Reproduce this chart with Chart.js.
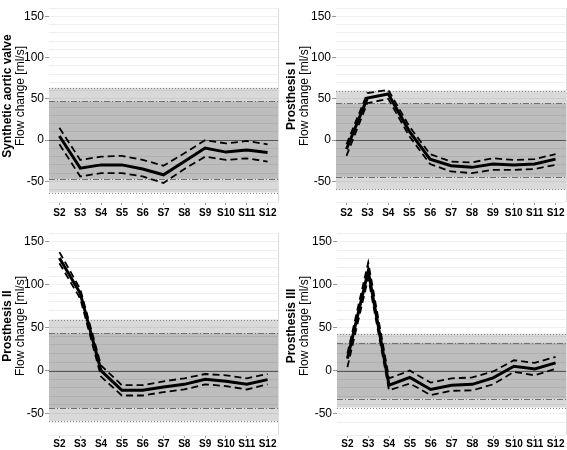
<!DOCTYPE html>
<html>
<head>
<meta charset="utf-8">
<script src="https://cdn.jsdelivr.net/npm/chart.js@4.4.0/dist/chart.umd.min.js"></script>
<style>
    body { margin: 0; background: #fff; }
    #wrap { position: relative; width: 567px; height: 450px; }
    #wrap canvas { position: absolute; }
</style>
</head>
<body>
<div id="wrap">
    <canvas id="c0" style="left:0px;top:0px" width="284" height="225"></canvas>
    <canvas id="c1" style="left:284px;top:0px" width="283" height="225"></canvas>
    <canvas id="c2" style="left:0px;top:225px" width="284" height="225"></canvas>
    <canvas id="c3" style="left:284px;top:225px" width="283" height="225"></canvas>
</div>
<script>
// data
const stages = ['S2', 'S3', 'S4', 'S5', 'S6', 'S7', 'S8', 'S9', 'S10', 'S11', 'S12'];
const panelTitles = ['Synthetic aortic valve', 'Prosthesis I', 'Prosthesis II', 'Prosthesis III'];
const yAxisLabel = 'Flow change [ml/s]';
const yTickLabels = [-50, 0, 50, 100, 150];

const synMean  = [5, -34, -30, -30, -35, -42, -26, -9.5, -14.5, -12, -15];
const synUpper = [15, -24, -20, -19, -24, -31, -16, 0, -4, -1, -5];
const synLower = [-5, -44, -40, -40, -44, -52, -35, -20, -24, -22, -26];

const p1Mean  = [-11, 51, 56, 11, -23, -31, -33, -29, -30, -29, -23];
const p1Upper = [-5, 57, 61, 17, -17, -26, -27, -22, -24, -23, -17];
const p1Lower = [-19, 45, 50, 5, -29, -38, -40, -36, -36, -35, -30];

const p2Mean  = [131, 90, 0, -23, -23, -19, -16, -10, -12.5, -16, -10.5];
const p2Upper = [138, 95, 6, -17, -17, -12.5, -9, -4, -5.5, -9, -4];
const p2Lower = [125, 84, -7, -29, -29, -25, -22, -16, -18, -22, -16];

const p3Mean  = [14, 116, -17, -8, -22, -17, -16, -8.5, 5, 2, 9];
const p3Upper = [20, 126, -9, 0, -14, -9, -8, -1, 12, 9, 16];
const p3Lower = [4, 108, -23, -15, -28.5, -23.5, -23, -16, -1.5, -5.5, 2];

// limits of agreement bands (inner = dash-dot, outer = dotted)
const innerLimits = [47, 44.5, 43.5, 32.5];
const outerLimits = [63.5, 59.5, 59, 43];

const meanSeries  = [synMean, p1Mean, p2Mean, p3Mean];
const upperSeries = [synUpper, p1Upper, p2Upper, p3Upper];
const lowerSeries = [synLower, p1Lower, p2Lower, p3Lower];

const FONT = '"Liberation Sans", Arial, sans-serif';

// panel geometry
const yWidths   = [49, 52, 49, 53];
const padTop    = [0, 0, 8, 8];
const padRight  = [6, 1, 6, 1];
const xHeights  = [23, 23, 15, 15];
const xPads     = [2, 2, 0, 0];
const titleMid  = [96, 96, 101, 101];

// grey bands, limit lines and zero line behind the curves
const bandPlugin = {
    id: 'bands',
    beforeDatasetsDraw(chart, args, opts) {
        let ctx = chart.ctx;
        let area = chart.chartArea;
        let y = chart.scales.y;
        let yOut1 = y.getPixelForValue(opts.outer);
        let yOut2 = y.getPixelForValue(-opts.outer);
        let yIn1 = y.getPixelForValue(opts.inner);
        let yIn2 = y.getPixelForValue(-opts.inner);
        let y0 = y.getPixelForValue(0);
        ctx.save();
        ctx.fillStyle = 'rgba(0,0,0,0.15)';
        ctx.fillRect(area.left, yOut1, area.right - area.left, yOut2 - yOut1);
        ctx.fillStyle = 'rgba(0,0,0,0.13)';
        ctx.fillRect(area.left, yIn1, area.right - area.left, yIn2 - yIn1);

        function hline(py, color, dash) {
            ctx.beginPath();
            ctx.strokeStyle = color;
            ctx.lineWidth = 1;
            ctx.setLineDash(dash);
            ctx.moveTo(area.left, Math.round(py) + 0.5);
            ctx.lineTo(area.right, Math.round(py) + 0.5);
            ctx.stroke();
        }
        hline(yOut1, '#8a8a8a', [1, 2]);
        hline(yOut2, '#8a8a8a', [1, 2]);
        hline(yIn1, '#707070', [6, 2, 1, 2]);
        hline(yIn2, '#707070', [6, 2, 1, 2]);
        hline(y0, '#555555', []);

        // faint frame on the right edge
        ctx.setLineDash([]);
        ctx.strokeStyle = '#dddddd';
        ctx.beginPath();
        ctx.moveTo(Math.round(area.right) + 0.5, area.top);
        ctx.lineTo(Math.round(area.right) + 0.5, area.bottom);
        ctx.stroke();
        ctx.restore();
    }
};

// two-line rotated y title: bold panel name + regular unit line
const yTitlePlugin = {
    id: 'ytitle',
    afterDraw(chart, args, opts) {
        let ctx = chart.ctx;
        ctx.save();
        ctx.fillStyle = '#000';
        ctx.textAlign = 'center';
        ctx.textBaseline = 'middle';
        ctx.translate(8, opts.mid);
        ctx.rotate(-Math.PI / 2);
        ctx.font = 'bold 12px ' + FONT;
        ctx.fillText(opts.bold, 0, 0);
        ctx.font = '12px ' + FONT;
        ctx.fillText(opts.normal, 0, 12.5);
        ctx.restore();
    }
};

function makePanel(i) {
    let ctx = document.getElementById('c' + i).getContext('2d');
    return new Chart(ctx, {
        type: 'line',
        data: {
            labels: stages,
            datasets: [
                {
                    data: upperSeries[i],
                    borderColor: '#000',
                    borderWidth: 1.8,
                    borderDash: [7, 4],
                    pointRadius: 0,
                    tension: 0
                },
                {
                    data: lowerSeries[i],
                    borderColor: '#000',
                    borderWidth: 1.8,
                    borderDash: [7, 4],
                    pointRadius: 0,
                    tension: 0
                },
                {
                    data: meanSeries[i],
                    borderColor: '#000',
                    borderWidth: 3,
                    pointRadius: 0,
                    tension: 0
                }
            ]
        },
        options: {
            responsive: false,
            animation: false,
            devicePixelRatio: 1,
            layout: {
                padding: { top: padTop[i], right: padRight[i], left: 0, bottom: 0 }
            },
            scales: {
                x: {
                    type: 'category',
                    offset: true,
                    border: { display: false },
                    grid: {
                        display: true,
                        drawOnChartArea: false,
                        drawTicks: true,
                        tickLength: 3,
                        color: '#999'
                    },
                    ticks: {
                        color: '#000',
                        autoSkip: false,
                        maxRotation: 0,
                        padding: xPads[i],
                        font: { family: FONT, size: 10, weight: 'bold' }
                    },
                    afterFit: function (s) { s.height = xHeights[i]; }
                },
                y: {
                    min: -75,
                    max: 160,
                    border: { display: false },
                    grid: {
                        color: '#efefef',
                        tickLength: 4,
                        tickColor: function (c) {
                            return yTickLabels.includes(c.tick.value) ? '#999' : 'rgba(0,0,0,0)';
                        }
                    },
                    ticks: {
                        stepSize: 10,
                        autoSkip: false,
                        color: '#000',
                        padding: 1,
                        font: { family: FONT, size: 12 },
                        callback: function (v) {
                            return yTickLabels.includes(v) ? String(v) : '';
                        }
                    },
                    afterFit: function (s) { s.width = yWidths[i]; }
                }
            },
            plugins: {
                legend: { display: false },
                tooltip: { enabled: false },
                bands: { inner: innerLimits[i], outer: outerLimits[i] },
                ytitle: { bold: panelTitles[i], normal: yAxisLabel, mid: titleMid[i] }
            }
        },
        plugins: [bandPlugin, yTitlePlugin]
    });
}

for (let i = 0; i < 4; i++) {
    makePanel(i);
}
</script>
</body>
</html>
